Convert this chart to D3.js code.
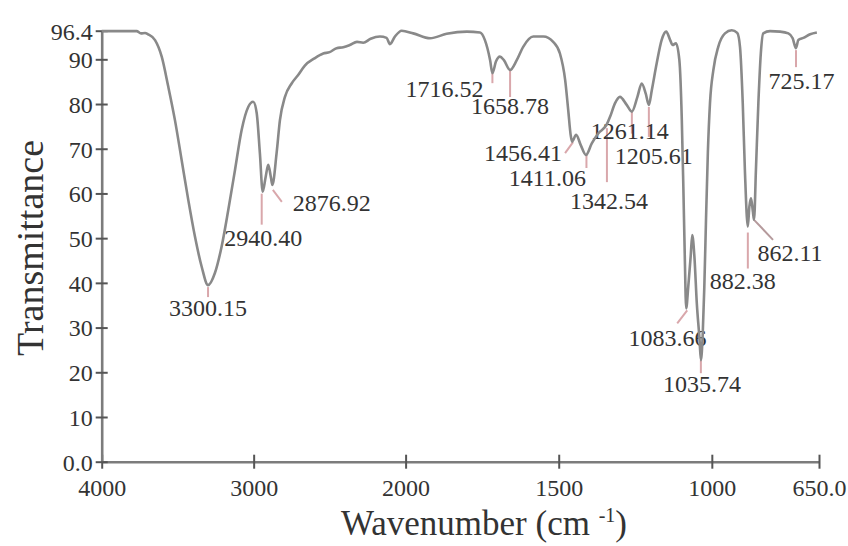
<!DOCTYPE html>
<html>
<head>
<meta charset="utf-8">
<script src="https://cdn.jsdelivr.net/npm/d3@7/dist/d3.min.js"></script>
<style>
  html, body { margin: 0; padding: 0; background: #fff; }
  svg { display: block; }
  text { font-family: "Liberation Serif", "DejaVu Serif", serif; fill: #333; }
</style>
</head>
<body>
<svg id="chart" width="848" height="546"></svg>
<script>
// ---- Data ----
const wavenumbers = [
  4000, 3770, 3741, 3715, 3695, 3649, 3605, 3562, 3518, 3474, 3430, 3386, 3342, 3300.15,
  3255, 3211, 3167, 3123, 3079, 3035, 3003, 2980, 2959, 2940.40, 2921, 2904, 2886, 2876.92,
  2849, 2827, 2794, 2750, 2707, 2663, 2600, 2542, 2500, 2454, 2410, 2367, 2320, 2279, 2230, 2169,
  2125, 2103, 2070, 2026, 1975, 1920, 1866, 1800, 1757, 1741, 1724, 1716.52, 1705, 1692, 1679,
  1658.78, 1637, 1616, 1583, 1550, 1518, 1496, 1479, 1469, 1461, 1456.41, 1443, 1428, 1411.06,
  1392, 1371, 1342.54, 1332, 1316, 1300, 1278, 1261.14, 1243, 1229, 1216, 1205.61, 1196, 1180,
  1164, 1149, 1136, 1128, 1117, 1106, 1098, 1093, 1088.5, 1083.66, 1077, 1069, 1064, 1057, 1049,
  1040, 1035.74, 1030, 1024.5, 1019, 1013, 1006, 995, 979, 957, 935, 917, 908, 899, 892, 882.38,
  877.5, 872, 866, 862.11, 856, 848, 840, 832, 810, 777, 750, 736, 725.17, 717.5, 701, 679, 657
];
const transmittance = [
  96.3, 96.3, 95.8, 95.9, 95.6, 94.3, 90.6, 83.9, 76.4, 67.5, 58.5, 50.3, 43.6, 39.5,
  42.2, 48.1, 56.3, 65.2, 74.2, 79.4, 80.5, 78.0, 69.0, 60.4, 63.7, 66.4, 63.5, 61.9,
  69.0, 76.4, 81.6, 84.6, 86.5, 88.6, 90.2, 91.3, 91.6, 92.5, 92.7, 93.2, 93.9, 93.7, 94.6, 95.1,
  94.8, 93.4, 95.1, 96.4, 95.8, 94.7, 95.7, 96.2, 96.0, 94.3, 89.8, 86.9, 89.5, 90.6, 89.8,
  87.6, 89.8, 92.8, 95.1, 95.1, 93.9, 91.3, 85.4, 78.7, 73.1, 71.6, 73.1, 70.8, 68.6,
  71.2, 73.4, 75.5, 77.2, 80.2, 81.6, 79.8, 78.3, 81.6, 84.6, 82.4, 79.8, 83.1, 89.1,
  94.3, 96.2, 94.3, 93.2, 93.6, 89.8, 76.4, 61.5, 46.6, 34.3, 39.1, 46.0, 50.7, 46.0, 35.4,
  27.2, 22.7, 28.0, 39.1, 54.1, 69.0, 80.2, 87.6, 92.8, 95.8, 96.5, 95.9, 92.8, 80.2, 65.2, 52.6,
  57.0, 58.9, 56.0, 54.1, 65.2, 80.2, 91.3, 95.8, 96.3, 96.2, 95.8, 94.7, 92.5, 94.3, 94.8, 95.6, 96.0
];
const peakWavenumbers = [3300.15, 2940.40, 2876.92, 1716.52, 1658.78, 1456.41, 1411.06, 1342.54,
  1261.14, 1205.61, 1083.66, 1035.74, 882.38, 862.11, 725.17];
const peakLabels = ["3300.15", "2940.40", "2876.92", "1716.52", "1658.78", "1456.41", "1411.06", "1342.54",
  "1261.14", "1205.61", "1083.66", "1035.74", "882.38", "862.11", "725.17"];
const xTickValues = [4000, 3000, 2000, 1500, 1000, 650];
const xTickLabels = ["4000", "3000", "2000", "1500", "1000", "650.0"];
const yTickValues = [0, 10, 20, 30, 40, 50, 60, 70, 80, 90, 96.4];
const yTickLabels = ["0.0", "10", "20", "30", "40", "50", "60", "70", "80", "90", "96.4"];

// ---- Layout (pixel offsets of annotation leaders & labels relative to each peak) ----
const annotLayout = [
  {l:[0,2,0,12],   t:[0,31],   a:"middle"},
  {l:[-1,2,-1,33], t:[0.5,54], a:"middle"},
  {l:[0.5,5,9.5,17], t:[20.5,26], a:"start"},
  {l:[0,0,0,10],   t:[-9,24],  a:"end"},
  {l:[0,0,0,27],   t:[0,44],   a:"middle"},
  {l:[1,0.5,-7,11.5], t:[-10,19.5], a:"end"},
  {l:[0.5,0,0.5,13], t:[0,31], a:"end"},
  {l:[0,4,0,58],   t:[2,85],   a:"middle"},
  {l:[0,0,0,22],   t:[-2,27.5], a:"middle"},
  {l:[0,2,0,32],   t:[5,59],   a:"middle"},
  {l:[1,2,-9,15],  t:[-18.7,38], a:"middle"},
  {l:[0,0,0,13],   t:[1,32],   a:"middle"},
  {l:[0,6,0,42],   t:[-5,62.5], a:"middle"},
  {l:[0,0,19,20],  t:[36,41],  a:"middle"},
  {l:[0,2,0,19],   t:[5.6,41], a:"middle"}
];

const svg = d3.select("#chart");
const x = d3.scaleLinear().domain([4000, 2000, 650]).range([101.7, 405.6, 819]);
const y = d3.scaleLinear().domain([0, 96.4]).range([461.7, 30.7]);

const axisColor = "#7c7c7c";

// X axis
const xAxis = d3.axisBottom(x).tickValues(xTickValues)
  .tickFormat((d, i) => xTickLabels[i]).tickSizeOuter(0).tickSizeInner(7).tickPadding(12);
const gx = svg.append("g").attr("transform", `translate(0,${y(0)})`).call(xAxis);
gx.select(".domain").attr("stroke", axisColor).attr("stroke-width", 2.6);
gx.selectAll(".tick line").attr("stroke", "#555").attr("stroke-width", 2).attr("y1", -7).attr("y2", 7);
gx.selectAll(".tick text").attr("font-size", 24).attr("fill", "#333")
  .attr("y", 17).attr("dy", "0.71em");

// Y axis
const yAxis = d3.axisLeft(y).tickValues(yTickValues)
  .tickFormat((d, i) => yTickLabels[i]).tickSizeOuter(0).tickSizeInner(6).tickPadding(8);
const gy = svg.append("g").attr("transform", `translate(${x(4000)},0)`).call(yAxis);
gy.select(".domain").attr("stroke", axisColor).attr("stroke-width", 2.6);
gy.selectAll(".tick line").attr("stroke", "#555").attr("stroke-width", 2).attr("x1", -6).attr("x2", 6);
gy.selectAll(".tick text").attr("font-size", 24).attr("fill", "#333")
  .attr("x", -9).attr("dy", "0.35em");

// Spectrum
const pts = wavenumbers.map((w, i) => [w, transmittance[i]]);
const line = d3.line().x(d => x(d[0])).y(d => y(d[1])).curve(d3.curveMonotoneX);

// Annotation leaders (behind curve)
const tAt = w => transmittance[wavenumbers.indexOf(w)];
const ann = svg.append("g");
peakWavenumbers.forEach((w, i) => {
  const px = x(w), py = y(tAt(w)), L = annotLayout[i];
  ann.append("line")
    .attr("x1", px + L.l[0]).attr("y1", py + L.l[1])
    .attr("x2", px + L.l[2]).attr("y2", py + L.l[3])
    .attr("stroke", i === 13 ? "#b59a9c" : "#d9a7ab").attr("stroke-width", 2);
});

svg.append("path").datum(pts).attr("d", line)
  .attr("fill", "none").attr("stroke", "#898989").attr("stroke-width", 2.6)
  .attr("stroke-linejoin", "round");

peakWavenumbers.forEach((w, i) => {
  const px = x(w), py = y(tAt(w)), L = annotLayout[i];
  ann.append("text")
    .attr("x", px + L.t[0]).attr("y", py + L.t[1])
    .attr("text-anchor", L.a).attr("font-size", 24).attr("fill", "#333")
    .text(peakLabels[i]);
});

// Axis titles
const xt = svg.append("text").attr("x", 484).attr("y", 535).attr("text-anchor", "middle")
  .attr("font-size", 35).attr("fill", "#333");
xt.append("tspan").text("Wavenumber (cm ");
xt.append("tspan").attr("font-size", 20).attr("dy", -13).text("-1");
xt.append("tspan").attr("dy", 13).text(")");

svg.append("text").attr("transform", "translate(43,248) rotate(-90)")
  .attr("text-anchor", "middle").attr("font-size", 38).attr("fill", "#333")
  .text("Transmittance");
</script>
</body>
</html>
